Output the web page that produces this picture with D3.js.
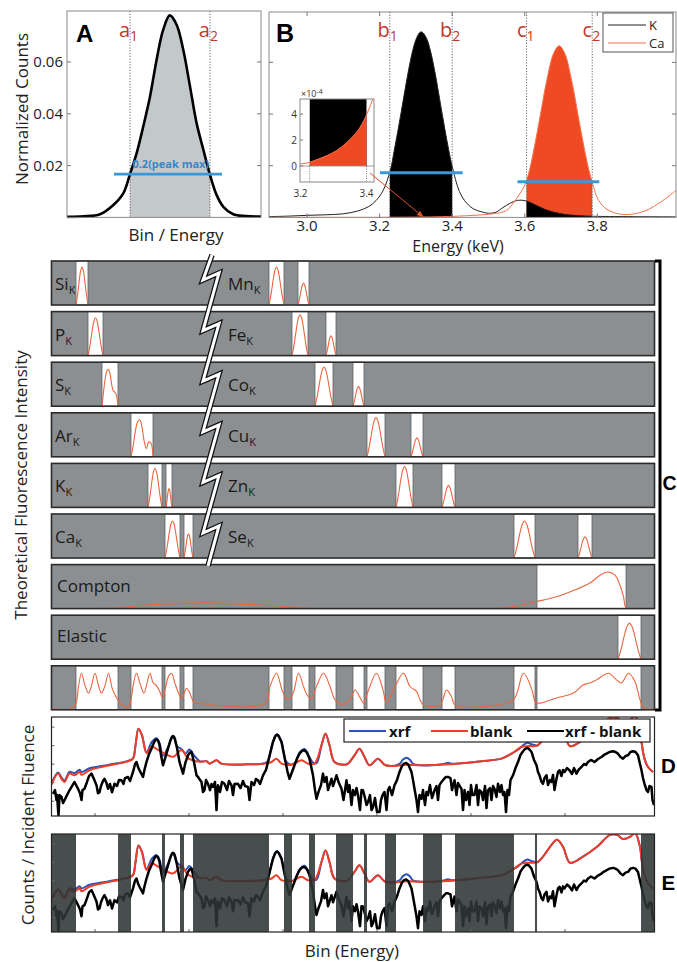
<!DOCTYPE html>
<html><head><meta charset="utf-8">
<script src="https://cdn.jsdelivr.net/npm/d3@7"></script>
<style>body{margin:0;background:#fff}svg{display:block}</style>
</head><body>
<script>
// ================= DATA =================
// Panel A
const aBins   = [0,8.4,17,23.9,29,32.5,35.9,39.3,42.8,46.2,49.6,53,56.5,59.9,63.4,66.8,70.3,73.7,77.1,80.6,85.7,92,100];
const aCounts = [0.0002,0.0004,0.0012,0.0048,0.0093,0.0168,0.0248,0.0351,0.0467,0.0609,0.0725,0.078,0.0744,0.0648,0.0506,0.0364,0.0261,0.0164,0.0087,0.0041,0.0012,0.0005,0.0003];
const aBounds = [32.5, 73.7];
const aThreshold = 0.0167, aThreshSpan = [24.2, 79.9];
const yTicksAB = [0.02, 0.04, 0.06];

// Panel B
const kEnergy = [2.895,2.95,3.00,3.05,3.10,3.14,3.17,3.19,3.21,3.23,3.24,3.25,3.26,3.27,3.28,3.29,3.30,3.31,3.315,3.32,3.33,3.34,3.35,3.36,3.37,3.38,3.39,3.40,3.42,3.44,3.46,3.48,3.50,3.52,3.54,3.56,3.58,3.60,3.62,3.64,3.66,3.69,3.72,3.76,3.80,3.90,4.02];
const kCounts = [0.0003,0.0005,0.0008,0.0010,0.0014,0.0025,0.0042,0.0065,0.0105,0.0185,0.0257,0.0332,0.0412,0.0494,0.0572,0.0639,0.0688,0.0715,0.0718,0.0714,0.0691,0.0645,0.0580,0.0503,0.0420,0.0340,0.0264,0.0198,0.0100,0.0055,0.0032,0.0022,0.0016,0.0020,0.0038,0.0055,0.0066,0.0065,0.0055,0.0041,0.0029,0.0017,0.0010,0.0006,0.0004,0.0003,0.0002];
const caEnergy = [2.895,3.0,3.1,3.15,3.194,3.22,3.25,3.28,3.31,3.34,3.37,3.39,3.42,3.46,3.50,3.53,3.55,3.57,3.59,3.60,3.61,3.62,3.64,3.66,3.68,3.695,3.71,3.73,3.75,3.77,3.78,3.79,3.80,3.82,3.85,3.88,3.91,3.94,3.97,4.00,4.02];
const caCounts = [0.00001,0.00001,0.00001,0.00001,0.000015,0.000023,0.00005,0.00008,0.00012,0.00018,0.00026,0.00034,0.00052,0.0008,0.0012,0.0018,0.0027,0.0058,0.0100,0.0125,0.0166,0.0226,0.0372,0.0525,0.0636,0.0664,0.0636,0.0525,0.0372,0.0226,0.0166,0.0118,0.0075,0.0038,0.0017,0.0011,0.0016,0.0030,0.0055,0.0085,0.0108];
const bTicks = [3.0,3.2,3.4,3.6,3.8];
const kBounds = [3.228, 3.40], caBounds = [3.605, 3.786];
const kThreshold = 0.0173, kThreshSpan = [3.2007, 3.4289];
const caThreshold = 0.0138, caThreshSpan = [3.580, 3.8055];
const insetYTicks = [0, 2e-4, 4e-4], insetXTicks = [3.2, 3.4];

// Panel C
const rowsLeft  = ["Si","P","S","Ar","K","Ca"];
const rowsRight = ["Mn","Fe","Co","Cu","Zn","Se"];
const windows = {
  Si:[[49,73]], P:[[73,103]], S:[[101,133]], Ar:[[159,203]],
  K:[[193,221],[229,241]], Ca:[[227,257],[265,283]],
  Mn:[[435,465],[493,515]], Fe:[[481,513],[549,569]], Co:[[527,563],[603,625]],
  Cu:[[631,667],[719,743]], Zn:[[689,723],[781,807]], Se:[[925,967],[1053,1081]],
  Compton:[[971,1149]], Elastic:[[1133,1179]]
};
const peakHeights = {
  Si:[0.86], P:[0.86], S:[0.84], Ar:[0.84], K:[0.89,0.43], Ca:[0.84,0.55],
  Mn:[0.86,0.5], Fe:[0.93,0.45], Co:[0.89,0.45], Cu:[0.89,0.43], Zn:[0.93,0.5], Se:[0.84,0.48],
  Elastic:[0.82]
};
const shapeSingle = [0,0.2,0.45,0.72,0.92,1,0.92,0.72,0.45,0.2,0];
const shapeS      = [0,0.4,0.75,0.95,1,0.88,0.6,0.42,0.38,0.3,0];
const shapeAr     = [0,0.3,0.7,0.95,1,0.8,0.42,0.22,0.4,0.38,0];
const comptonPts = [[0,0],[137,0.02],[177,0.07],[244,0.11],[310,0.13],[377,0.10],[444,0.07],[494,0.02],[520,0],[880,0],[910,0.02],[970,0.16],[1010,0.27],[1050,0.44],[1077,0.58],[1097,0.76],[1114,0.83],[1127,0.76],[1137,0.53],[1144,0.27],[1149,0.02],[1160,0],[1206,0]];
const sumPts = [[0,0.02],[40,0.03],[49,0.15],[54,0.53],[60,0.83],[67,0.55],[74,0.38],[80,0.55],[87,0.83],[94,0.55],[100,0.38],[107,0.55],[114,0.83],[121,0.5],[127,0.34],[134,0.2],[144,0.09],[152,0.05],[159,0.23],[164,0.6],[170,0.83],[177,0.6],[185,0.38],[191,0.6],[197,0.83],[203,0.62],[210,0.55],[217,0.4],[222,0.27],[228,0.5],[234,0.76],[240,0.83],[247,0.6],[254,0.38],[260,0.25],[266,0.4],[270,0.49],[275,0.42],[280,0.28],[285,0.17],[292,0.15],[428,0.15],[437,0.53],[450,0.83],[461,0.45],[468,0.28],[475,0.25],[484,0.4],[494,0.83],[504,0.53],[511,0.34],[520,0.25],[530,0.53],[544,0.83],[557,0.53],[567,0.23],[582,0.12],[597,0.23],[607,0.45],[617,0.28],[624,0.15],[634,0.45],[650,0.83],[663,0.45],[670,0.15],[687,0.53],[704,0.83],[717,0.53],[730,0.42],[737,0.23],[744,0.11],[777,0.11],[790,0.45],[800,0.3],[807,0.11],[880,0.09],[924,0.23],[944,0.83],[961,0.45],[967,0.19],[974,0.15],[1010,0.27],[1044,0.38],[1064,0.57],[1077,0.61],[1090,0.68],[1114,0.83],[1130,0.68],[1140,0.61],[1154,0.83],[1167,0.64],[1177,0.23],[1184,0.04],[1206,0.02]];

// Panels D/E : [bin, log10(counts / incident fluence)]
const blankPts = [[0,-4.11],[13,-3.51],[20,-3.79],[26,-3.96],[36,-3.51],[46,-3.60],[56,-3.42],[60,-3.57],[76,-3.33],[100,-3.15],[126,-3.01],[153,-2.84],[163,-2.70],[168,-1.98],[174,-1.08],[181,-1.44],[190,-2.41],[200,-2.06],[217,-2.29],[243,-2.60],[260,-2.23],[273,-2.67],[297,-2.87],[310,-2.84],[316,-2.97],[330,-2.79],[340,-2.97],[393,-3.01],[426,-2.97],[440,-2.88],[450,-2.70],[460,-2.97],[480,-3.03],[500,-2.79],[513,-2.97],[526,-2.97],[540,-1.98],[548,-1.35],[556,-1.98],[566,-2.88],[586,-3.03],[593,-2.97],[606,-2.52],[616,-2.16],[626,-2.61],[636,-3.06],[653,-2.70],[666,-3.03],[680,-3.10],[710,-3.03],[740,-3.06],[793,-3.01],[833,-2.92],[860,-2.84],[900,-2.70],[920,-2.43],[940,-2.07],[955,-2.02],[971,-2.00],[983,-1.69],[997,-1.15],[1011,-0.77],[1023,-1.15],[1037,-2.02],[1063,-1.69],[1091,-1.15],[1117,-0.50],[1131,-0.50],[1143,-0.72],[1157,-0.61],[1167,-0.40],[1177,-1.15],[1180,-1.80],[1186,-2.70],[1193,-3.15],[1203,-3.42]];
const xrfPts = [[0,-4.05],[13,-3.45],[20,-3.72],[26,-3.88],[36,-3.42],[46,-3.48],[56,-3.30],[60,-3.42],[76,-3.22],[100,-3.10],[126,-2.98],[153,-2.82],[163,-2.68],[168,-1.98],[174,-1.08],[181,-1.44],[190,-2.36],[200,-1.82],[205,-1.68],[210,-1.60],[216,-1.85],[223,-2.55],[233,-2.08],[243,-1.50],[251,-2.02],[260,-2.18],[268,-2.42],[276,-2.20],[285,-2.52],[297,-2.85],[310,-2.84],[316,-2.97],[330,-2.79],[340,-2.97],[393,-3.01],[426,-2.95],[433,-2.82],[438,-2.30],[443,-1.78],[451,-1.38],[460,-1.78],[464,-2.30],[468,-2.80],[476,-3.00],[486,-2.95],[496,-2.38],[506,-2.18],[516,-2.62],[523,-2.92],[530,-2.95],[540,-1.98],[548,-1.35],[556,-1.98],[566,-2.88],[586,-3.03],[593,-2.97],[606,-2.52],[616,-2.16],[626,-2.61],[636,-3.06],[653,-2.70],[666,-3.03],[680,-3.10],[696,-2.98],[703,-2.75],[710,-2.65],[717,-2.77],[723,-2.98],[740,-3.06],[785,-2.99],[793,-2.92],[800,-2.97],[833,-2.92],[860,-2.84],[900,-2.70],[920,-2.43],[933,-2.22],[943,-1.98],[952,-1.84],[960,-1.92],[968,-1.98],[971,-2.00],[983,-1.69],[997,-1.15],[1011,-0.77],[1023,-1.15],[1037,-2.02],[1063,-1.69],[1091,-1.15],[1117,-0.50],[1131,-0.50],[1143,-0.72],[1157,-0.61],[1167,-0.40],[1177,-1.15],[1180,-1.80],[1186,-2.70],[1193,-3.15],[1203,-3.42]];
const diffPts = [[3,-4.60],[7,-4.40],[10,-4.94],[11,-4.66],[14,-5.80],[16,-4.67],[20,-4.77],[23,-5.10],[26,-4.95],[31,-4.67],[36,-4.41],[41,-4.18],[46,-3.96],[53,-4.33],[57,-4.57],[60,-4.94],[62,-4.40],[66,-4.33],[71,-3.96],[75,-3.64],[80,-3.51],[84,-3.75],[90,-4.14],[93,-4.57],[96,-4.52],[99,-4.18],[103,-3.91],[106,-3.79],[110,-4.02],[113,-4.33],[117,-4.07],[121,-4.52],[126,-4.06],[131,-4.18],[135,-3.86],[140,-3.87],[144,-4.07],[147,-3.75],[153,-3.69],[157,-3.91],[163,-3.42],[167,-3.00],[170,-2.88],[173,-3.15],[176,-3.33],[183,-3.69],[186,-3.30],[190,-2.88],[195,-2.45],[200,-2.16],[205,-1.82],[208,-1.68],[210,-1.66],[213,-1.72],[216,-1.96],[219,-2.50],[223,-3.06],[228,-2.60],[233,-2.16],[238,-1.70],[241,-1.52],[243,-1.48],[245,-1.52],[247,-1.65],[251,-2.13],[256,-2.88],[263,-3.51],[268,-2.90],[273,-2.52],[277,-2.36],[280,-2.34],[285,-2.88],[290,-3.60],[293,-3.69],[300,-3.96],[303,-4.50],[306,-4.40],[309,-3.86],[313,-4.06],[317,-4.40],[320,-4.07],[323,-4.23],[327,-3.96],[330,-5.48],[332,-4.40],[333,-4.14],[337,-4.50],[341,-3.96],[346,-4.06],[351,-4.40],[355,-3.91],[360,-4.14],[363,-4.67],[366,-4.07],[373,-4.06],[378,-4.29],[383,-3.91],[387,-4.18],[393,-4.23],[396,-4.94],[400,-3.96],[405,-4.13],[409,-3.80],[413,-3.87],[417,-4.07],[423,-3.60],[429,-3.31],[433,-2.88],[438,-2.34],[443,-1.80],[447,-1.52],[449,-1.44],[451,-1.41],[453,-1.44],[455,-1.52],[460,-1.80],[464,-2.34],[468,-2.88],[472,-3.40],[476,-3.79],[481,-3.42],[486,-3.06],[491,-2.70],[496,-2.43],[501,-2.28],[506,-2.25],[511,-2.38],[516,-2.70],[523,-3.60],[527,-4.40],[530,-4.87],[534,-4.50],[539,-4.13],[543,-3.51],[546,-3.96],[550,-3.69],[553,-4.40],[560,-3.79],[563,-4.18],[570,-3.60],[574,-3.96],[580,-4.33],[584,-4.94],[590,-3.87],[593,-4.50],[596,-4.13],[600,-5.21],[603,-4.40],[607,-4.67],[610,-4.29],[613,-4.67],[617,-5.48],[620,-4.40],[623,-4.41],[627,-4.83],[630,-5.21],[633,-5.05],[637,-4.67],[640,-5.48],[643,-5.32],[647,-4.83],[651,-5.59],[656,-5.59],[659,-4.94],[662,-4.67],[666,-4.50],[670,-5.48],[673,-4.40],[676,-4.23],[681,-4.67],[686,-4.14],[691,-3.86],[696,-3.42],[701,-3.10],[705,-2.97],[708,-2.94],[710,-2.94],[714,-3.04],[720,-3.42],[723,-3.86],[726,-4.33],[730,-4.94],[733,-5.59],[736,-4.67],[740,-4.87],[743,-4.40],[747,-5.21],[750,-4.50],[753,-4.67],[757,-4.13],[761,-4.83],[766,-4.41],[770,-4.18],[773,-4.94],[776,-4.13],[780,-3.96],[785,-3.80],[789,-3.69],[793,-3.69],[798,-3.75],[801,-4.40],[806,-3.87],[810,-4.67],[813,-4.02],[820,-4.33],[823,-5.48],[826,-4.40],[829,-4.94],[833,-4.50],[836,-5.21],[839,-4.13],[842,-4.67],[846,-4.67],[850,-4.13],[853,-5.21],[856,-4.40],[860,-4.50],[863,-4.94],[867,-4.18],[870,-5.37],[873,-4.41],[877,-4.29],[880,-4.94],[883,-4.18],[886,-4.33],[890,-4.77],[893,-4.06],[897,-4.50],[900,-4.13],[903,-4.67],[906,-4.50],[909,-5.59],[912,-4.40],[915,-4.67],[918,-3.86],[923,-3.60],[928,-3.21],[933,-2.88],[938,-2.50],[943,-2.30],[947,-2.18],[950,-2.14],[952,-2.13],[954,-2.15],[956,-2.21],[960,-2.34],[965,-2.77],[970,-3.06],[973,-3.42],[976,-3.60],[980,-3.96],[983,-4.06],[986,-3.75],[990,-3.60],[993,-4.13],[997,-3.86],[1000,-3.96],[1003,-3.58],[1006,-4.40],[1010,-3.79],[1013,-3.42],[1016,-3.33],[1020,-3.64],[1023,-3.31],[1026,-3.42],[1031,-3.21],[1036,-3.33],[1041,-3.53],[1045,-3.21],[1050,-3.51],[1054,-3.31],[1060,-3.15],[1065,-2.99],[1069,-3.04],[1073,-2.88],[1079,-2.77],[1086,-2.88],[1093,-2.72],[1100,-2.61],[1105,-2.50],[1110,-2.43],[1116,-2.34],[1123,-2.30],[1128,-2.34],[1133,-2.43],[1138,-2.61],[1143,-2.70],[1148,-2.56],[1153,-2.52],[1158,-2.34],[1163,-2.30],[1168,-2.34],[1173,-2.52],[1176,-2.88],[1180,-3.33],[1183,-3.75],[1186,-4.06],[1190,-4.40],[1193,-4.50],[1196,-4.18],[1200,-4.23],[1202,-4.94],[1205,-5.21]];
const spectrumBinTicks = [87,275,463,651,839,1027];
const spectrumLogTicks = [-1,-2,-3,-4,-5];
const legendItems = [{label:"xrf",color:"#2d52b6"},{label:"blank",color:"#ef3d27"},{label:"xrf - blank",color:"#000"}];

// ================= DRAWING =================
const W = 677, H = 962;
const FONT = "'Open Sans','Noto Sans',sans-serif";
const BOLD = "'Liberation Sans',Arial,sans-serif";
const svg = d3.select("body").append("svg").attr("width", W).attr("height", H);
const defs = svg.append("defs");
let cid = 0;
function clip(x, y, w, h) {
  const id = "clp" + (cid++);
  defs.append("clipPath").attr("id", id).append("rect").attr("x", x).attr("y", y).attr("width", w).attr("height", h);
  return "url(#" + id + ")";
}
function txt(g, x, y, s, size, opts = {}) {
  return g.append("text").attr("x", x).attr("y", y).text(s)
    .attr("font-family", opts.family || FONT).attr("font-size", size)
    .attr("font-weight", opts.weight || "normal").attr("fill", opts.fill || "#1a1a1a")
    .attr("text-anchor", opts.anchor || "start");
}
function redLabel(g, x, main, subTxt) {
  txt(g, x, 37, main, 20, {fill: "#c0392b", anchor: "end"});
  txt(g, x, 41, subTxt, 14, {fill: "#c0392b"});
}
const zip = (a, b) => a.map((v, i) => [v, b[i]]);

// ---------- Panel A ----------
const A = {l: 67, r: 261, t: 11, b: 217.4};
const ax = d3.scaleLinear().domain([0, 100]).range([A.l, A.r]);
const ay = d3.scaleLinear().domain([0, 0.0797]).range([A.b, A.t]);
const aData = zip(aBins, aCounts);
const gA = svg.append("g");
const aLine = d3.line().x(d => ax(d[0])).y(d => ay(d[1])).curve(d3.curveCatmullRom);
const aArea = d3.area().x(d => ax(d[0])).y0(ay(0)).y1(d => ay(d[1])).curve(d3.curveCatmullRom);
gA.append("path").attr("d", aArea(aData)).attr("fill", "#c3c8cb")
  .attr("clip-path", clip(ax(aBounds[0]), A.t, ax(aBounds[1]) - ax(aBounds[0]), A.b - A.t));
aBounds.forEach(b => gA.append("line").attr("x1", ax(b)).attr("x2", ax(b)).attr("y1", A.t).attr("y2", A.b)
  .attr("stroke", "#555").attr("stroke-width", 0.9).attr("stroke-dasharray", "1.2,1.6"));
gA.append("path").attr("d", aLine(aData)).attr("fill", "none").attr("stroke", "#000").attr("stroke-width", 2.6)
  .attr("clip-path", clip(A.l, A.t, A.r - A.l, A.b - A.t + 1));
gA.append("rect").attr("x", A.l).attr("y", A.t).attr("width", A.r - A.l).attr("height", A.b - A.t)
  .attr("fill", "none").attr("stroke", "#8a8a8a").attr("stroke-width", 1);
yTicksAB.forEach(v => {
  gA.append("line").attr("x1", A.l).attr("x2", A.l + 4).attr("y1", ay(v)).attr("y2", ay(v)).attr("stroke", "#777");
  gA.append("line").attr("x1", A.r).attr("x2", A.r - 4).attr("y1", ay(v)).attr("y2", ay(v)).attr("stroke", "#777");
  txt(gA, A.l - 4, ay(v) + 5, d3.format(".2f")(v), 15, {anchor: "end", fill: "#222"});
});
gA.append("line").attr("x1", ax(aThreshSpan[0])).attr("x2", ax(aThreshSpan[1])).attr("y1", ay(aThreshold)).attr("y2", ay(aThreshold))
  .attr("stroke", "#3b98d8").attr("stroke-width", 2.8);
txt(gA, ax(53) + 1, ay(aThreshold) - 6.5, "0.2(peak max)", 11, {weight: "bold", fill: "#3a86c8", anchor: "middle"});
txt(gA, 76, 42, "A", 24, {family: BOLD, weight: "bold", fill: "#000"});
redLabel(gA, ax(aBounds[0]), "a", "1");
redLabel(gA, ax(aBounds[1]), "a", "2");
txt(gA, 176, 241, "Bin / Energy", 17, {anchor: "middle", fill: "#222"});
txt(gA, 0, 0, "Normalized Counts", 17, {anchor: "middle", fill: "#222"}).attr("transform", "translate(28,109) rotate(-90)");

// ---------- Panel B ----------
const B = {l: 269, r: 676, t: 12, b: 217.4};
const bx = d3.scaleLinear().domain([2.895, 4.017]).range([B.l, B.r]);
const by = d3.scaleLinear().domain([0, 0.0795]).range([B.b, B.t]);
const kData = zip(kEnergy, kCounts), caData = zip(caEnergy, caCounts);
const gB = svg.append("g");
const bLine = d3.line().x(d => bx(d[0])).y(d => by(d[1])).curve(d3.curveCatmullRom);
const bArea = d3.area().x(d => bx(d[0])).y0(by(0)).y1(d => by(d[1])).curve(d3.curveCatmullRom);
const CAF = "#f04a24", CAL = "#f2734b";
const clipK = clip(bx(kBounds[0]), B.t, bx(kBounds[1]) - bx(kBounds[0]), B.b - B.t);
gB.append("path").attr("d", bArea(kData)).attr("fill", "#000").attr("clip-path", clipK);
gB.append("path").attr("d", bArea(caData)).attr("fill", CAF).attr("clip-path", clipK);
const clipCa = clip(bx(caBounds[0]), B.t, bx(caBounds[1]) - bx(caBounds[0]), B.b - B.t);
gB.append("path").attr("d", bArea(caData)).attr("fill", CAF).attr("clip-path", clipCa);
gB.append("path").attr("d", bArea(kData)).attr("fill", "#000").attr("clip-path", clipCa);
const clipB = clip(B.l, B.t, B.r - B.l, B.b - B.t);
gB.append("path").attr("d", bLine(kData)).attr("fill", "none").attr("stroke", "#222").attr("stroke-width", 1).attr("clip-path", clipB);
gB.append("path").attr("d", bLine(caData)).attr("fill", "none").attr("stroke", CAL).attr("stroke-width", 1).attr("clip-path", clipB);
[...kBounds, ...caBounds].forEach(b => gB.append("line").attr("x1", bx(b)).attr("x2", bx(b)).attr("y1", B.t).attr("y2", B.b)
  .attr("stroke", "#555").attr("stroke-width", 0.9).attr("stroke-dasharray", "1.2,1.6"));
[[kThreshold, kThreshSpan], [caThreshold, caThreshSpan]].forEach(([v, s]) =>
  gB.append("line").attr("x1", bx(s[0])).attr("x2", bx(s[1])).attr("y1", by(v)).attr("y2", by(v)).attr("stroke", "#3b98d8").attr("stroke-width", 3));
gB.append("rect").attr("x", B.l).attr("y", B.t).attr("width", B.r - B.l).attr("height", B.b - B.t)
  .attr("fill", "none").attr("stroke", "#8a8a8a");
bTicks.forEach(v => {
  gB.append("line").attr("x1", bx(v)).attr("x2", bx(v)).attr("y1", B.b).attr("y2", B.b - 4).attr("stroke", "#777");
  gB.append("line").attr("x1", bx(v)).attr("x2", bx(v)).attr("y1", B.t).attr("y2", B.t + 4).attr("stroke", "#777");
  txt(gB, bx(v), 230.5, d3.format(".1f")(v), 15, {anchor: "middle", fill: "#222"});
});
yTicksAB.forEach(v => {
  gB.append("line").attr("x1", B.l).attr("x2", B.l + 4).attr("y1", by(v)).attr("y2", by(v)).attr("stroke", "#777");
  gB.append("line").attr("x1", B.r).attr("x2", B.r - 4).attr("y1", by(v)).attr("y2", by(v)).attr("stroke", "#777");
});
txt(gB, 458, 252, "Energy (keV)", 16, {anchor: "middle", fill: "#222"});
txt(gB, 276, 42, "B", 25, {family: BOLD, weight: "bold", fill: "#000"});
redLabel(gB, bx(kBounds[0]), "b", "1");
redLabel(gB, bx(kBounds[1]), "b", "2");
redLabel(gB, bx(caBounds[0]), "c", "1");
redLabel(gB, bx(caBounds[1]), "c", "2");
// legend
const lg = gB.append("g");
lg.append("rect").attr("x", 603).attr("y", 13).attr("width", 70).attr("height", 39).attr("fill", "#fff").attr("stroke", "#555");
[["K", "#222", 25], ["Ca", CAL, 43]].forEach(([s, c, y]) => {
  lg.append("line").attr("x1", 608).attr("x2", 646).attr("y1", y).attr("y2", y).attr("stroke", c).attr("stroke-width", 1.2);
  txt(lg, 649, y + 4.5, s, 13, {fill: "#222"});
});
// inset
const I = {l: 300, r: 374, t: 99, b: 182};
const ix = d3.scaleLinear().domain([3.2, 3.4]).range([300.5, 366.5]);
const iy = d3.scaleLinear().domain([0, 4e-4]).range([166, 114]);
const gI = gB.append("g");
gI.append("rect").attr("x", I.l).attr("y", I.t).attr("width", I.r - I.l).attr("height", I.b - I.t).attr("fill", "#fff");
const iLine = d3.line().x(d => ix(d[0])).y(d => iy(d[1])).curve(d3.curveCatmullRom);
const iArea = d3.area().x(d => ix(d[0])).y0(iy(0)).y1(d => iy(d[1])).curve(d3.curveCatmullRom);
const clipIK = clip(ix(kBounds[0]), I.t, ix(kBounds[1]) - ix(kBounds[0]), I.b - I.t);
gI.append("path").attr("d", iArea(kData)).attr("fill", "#000").attr("clip-path", clipIK);
gI.append("path").attr("d", iArea(caData)).attr("fill", CAF).attr("clip-path", clipIK);
gI.append("line").attr("x1", I.l).attr("x2", I.r).attr("y1", iy(0)).attr("y2", iy(0)).attr("stroke", "#888").attr("stroke-width", 0.8);
const clipI = clip(I.l, I.t, I.r - I.l, I.b - I.t);
gI.append("path").attr("d", iLine(caData)).attr("fill", "none").attr("stroke", CAL).attr("stroke-width", 1).attr("clip-path", clipI);
kBounds.forEach(b => gI.append("line").attr("x1", ix(b)).attr("x2", ix(b)).attr("y1", iy(0)).attr("y2", I.b)
  .attr("stroke", "#555").attr("stroke-width", 0.8).attr("stroke-dasharray", "1,1.4"));
gI.append("rect").attr("x", I.l).attr("y", I.t).attr("width", I.r - I.l).attr("height", I.b - I.t).attr("fill", "none").attr("stroke", "#888");
insetYTicks.forEach(v => {
  gI.append("line").attr("x1", I.l).attr("x2", I.l + 3).attr("y1", iy(v)).attr("y2", iy(v)).attr("stroke", "#777");
  txt(gI, 297, iy(v) + 3.5, String(v / 1e-4), 10, {anchor: "end", fill: "#333"});
});
insetXTicks.forEach(v => txt(gI, ix(v), 197, d3.format(".1f")(v), 10, {anchor: "middle", fill: "#333"}));
const ex = txt(gI, 301, 97, "×10", 9, {fill: "#333"});
ex.append("tspan").attr("dy", -3).attr("font-size", 7).text("-4");
// arrow
defs.append("marker").attr("id", "arr").attr("viewBox", "0 0 10 10").attr("refX", 9).attr("refY", 5)
  .attr("markerWidth", 7).attr("markerHeight", 7).attr("orient", "auto")
  .append("path").attr("d", "M0,1L10,5L0,9Z").attr("fill", "#d9532c");
gB.append("line").attr("x1", 370).attr("y1", 173).attr("x2", bx(3.32)).attr("y2", by(0.0002))
  .attr("stroke", "#d9532c").attr("stroke-width", 1).attr("marker-end", "url(#arr)");

// ---------- shared bin scale (C, D, E) ----------
const sx = d3.scaleLinear().domain([0, 1206]).range([51.5, 654.5]);

// merged windows (union)
const allWin = Object.values(windows).flat().map(w => w.slice()).sort((a, b) => a[0] - b[0]);
const merged = [];
allWin.forEach(w => {
  const last = merged[merged.length - 1];
  if (last && w[0] <= last[1]) last[1] = Math.max(last[1], w[1]); else merged.push(w.slice());
});
const gaps = [];
let cur = 0;
merged.forEach(w => { if (w[0] > cur) gaps.push([cur, w[0]]); cur = w[1]; });
if (cur < 1206) gaps.push([cur, 1206]);

// ---------- Panel C ----------
const gC = svg.append("g");
const rowTop0 = 261, rowPitch = 50.6, rowH = 44;
const CURVE = "#e8663f";
const rowSpecs = [];
for (let i = 0; i < 6; i++) rowSpecs.push({els: [rowsLeft[i], rowsRight[i]], labels: [[rowsLeft[i], 55], [rowsRight[i], 228]]});
rowSpecs.push({els: ["Compton"], plain: "Compton"});
rowSpecs.push({els: ["Elastic"], plain: "Elastic"});
rowSpecs.push({sum: true});
const shapeOf = el => el === "S" ? shapeS : (el === "Ar" ? shapeAr : shapeSingle);
rowSpecs.forEach((r, i) => {
  const top = rowTop0 + i * rowPitch, bot = top + rowH;
  const ry = d3.scaleLinear().domain([0, 1]).range([bot, top]);
  const g = gC.append("g");
  g.append("rect").attr("x", sx(0)).attr("y", top).attr("width", sx(1206) - sx(0)).attr("height", rowH).attr("fill", "#8b8f91");
  const wins = r.sum ? merged : r.els.flatMap(e => windows[e]);
  wins.forEach(w => g.append("rect").attr("x", sx(w[0])).attr("y", top).attr("width", sx(w[1]) - sx(w[0])).attr("height", rowH)
    .attr("fill", "#fff").attr("stroke", "#5f6365").attr("stroke-width", 0.8));
  const line = d3.line().x(d => sx(d[0])).y(d => ry(d[1])).curve(d3.curveCatmullRom);
  const rclip = clip(sx(0), top, sx(1206) - sx(0), rowH);
  if (r.sum) {
    g.append("path").attr("d", line(sumPts)).attr("fill", "none").attr("stroke", CURVE).attr("stroke-width", 1.1).attr("clip-path", rclip);
  } else {
    r.els.forEach(el => {
      if (el === "Compton") {
        g.append("path").attr("d", line(comptonPts)).attr("fill", "none").attr("stroke", CURVE).attr("stroke-width", 1.1).attr("clip-path", rclip);
        return;
      }
      windows[el].forEach((w, j) => {
        const sh = shapeOf(el), h = peakHeights[el][j];
        const pts = sh.map((v, k) => [w[0] + k / (sh.length - 1) * (w[1] - w[0]), h * v]);
        g.append("path").attr("d", line(pts)).attr("fill", "none").attr("stroke", CURVE).attr("stroke-width", 1.1).attr("clip-path", rclip);
      });
    });
  }
  g.append("rect").attr("x", sx(0)).attr("y", top).attr("width", sx(1206) - sx(0)).attr("height", rowH)
    .attr("fill", "none").attr("stroke", "#2b2b2b").attr("stroke-width", 1.6);
  if (r.labels) r.labels.forEach(([el, x]) => {
    const t = txt(g, x, top + 29, el, 17, {fill: "#1a1a1a"});
    t.append("tspan").attr("dy", 4).attr("font-size", 11).text("K");
  });
  if (r.plain) txt(g, 57, top + 27, r.plain, 17, {fill: "#1a1a1a"});
});
// axis break bolt
const bx0 = sx(319);
const bolt = [[bx0 + 1, 255]];
for (let i = 0; i < 6; i++) {
  const y0 = 256 + i * rowPitch;
  bolt.push([bx0 - 8, y0 + 24], [bx0 + 8, y0 + 17]);
}
bolt.push([bx0 - 3, 566]);
const boltPath = d3.line()(bolt);
gC.append("path").attr("d", boltPath).attr("fill", "none").attr("stroke", "#111").attr("stroke-width", 5.5).attr("stroke-linejoin", "miter");
gC.append("path").attr("d", boltPath).attr("fill", "none").attr("stroke", "#fff").attr("stroke-width", 3).attr("stroke-linejoin", "miter");
// bracket & labels
gC.append("path").attr("d", "M655,261H660V710H655").attr("fill", "none").attr("stroke", "#000").attr("stroke-width", 3);
txt(gC, 662.5, 490, "C", 19.5, {family: BOLD, weight: "bold", fill: "#000"});
txt(gC, 0, 0, "Theoretical Fluorescence Intensity", 17, {anchor: "middle", fill: "#222"}).attr("transform", "translate(27,485) rotate(-90)");

// ---------- Panels D & E ----------
function spectrum(top, bot, legend, overlay) {
  const y = d3.scaleLinear().domain([-5.8, -0.45]).range([bot, top]);
  const g = svg.append("g");
  const cl = clip(sx(0), top, sx(1206) - sx(0), bot - top);
  const gl = g.append("g").attr("clip-path", cl);
  const smooth = d3.line().x(d => sx(d[0])).y(d => y(d[1])).curve(d3.curveCatmullRom.alpha(0.5));
  const lin = d3.line().x(d => sx(d[0])).y(d => y(d[1]));
  gl.append("path").attr("d", smooth(xrfPts)).attr("fill", "none").attr("stroke", legendItems[0].color).attr("stroke-width", 2);
  gl.append("path").attr("d", smooth(blankPts)).attr("fill", "none").attr("stroke", legendItems[1].color).attr("stroke-width", 2);
  gl.append("path").attr("d", lin(diffPts)).attr("fill", "none").attr("stroke", legendItems[2].color).attr("stroke-width", 2.5).attr("stroke-linejoin", "round");
  if (overlay) gaps.forEach(gp => gl.append("rect").attr("x", sx(gp[0])).attr("y", top).attr("width", sx(gp[1]) - sx(gp[0])).attr("height", bot - top)
    .attr("fill", "#2f3535").attr("opacity", 0.88));
  spectrumBinTicks.forEach(t => g.append("line").attr("x1", sx(t)).attr("x2", sx(t)).attr("y1", bot).attr("y2", bot - 3).attr("stroke", "#666"));
  spectrumLogTicks.forEach(t => g.append("line").attr("x1", sx(0)).attr("x2", sx(0) + 3).attr("y1", y(t)).attr("y2", y(t)).attr("stroke", "#666"));
  g.append("rect").attr("x", sx(0)).attr("y", top).attr("width", sx(1206) - sx(0)).attr("height", bot - top)
    .attr("fill", "none").attr("stroke", "#222").attr("stroke-width", 1.2);
  if (legend) {
    const lg = g.append("g");
    lg.append("rect").attr("x", 344).attr("y", 719).attr("width", 306).attr("height", 23).attr("fill", "#fff").attr("stroke", "#222").attr("stroke-width", 1.2);
    const xs = [[349, 389], [431, 470], [527, 565]];
    legendItems.forEach((it, k) => {
      lg.append("line").attr("x1", xs[k][0]).attr("x2", xs[k][0] + 37).attr("y1", 731).attr("y2", 731).attr("stroke", it.color).attr("stroke-width", 2.2);
      txt(lg, xs[k][1], 737, it.label, 15, {weight: "bold", fill: "#111"});
    });
  }
}
spectrum(717, 816, true, false);
spectrum(834, 932, false, true);
txt(svg, 661, 773, "D", 20.5, {family: BOLD, weight: "bold", fill: "#000"});
txt(svg, 661.5, 890, "E", 20.5, {family: BOLD, weight: "bold", fill: "#000"});
txt(svg, 0, 0, "Counts / Incident Fluence", 17, {anchor: "middle", fill: "#222"}).attr("transform", "translate(34,825) rotate(-90)");
txt(svg, 352, 957, "Bin (Energy)", 17, {anchor: "middle", fill: "#222"});
</script>
</body></html>
